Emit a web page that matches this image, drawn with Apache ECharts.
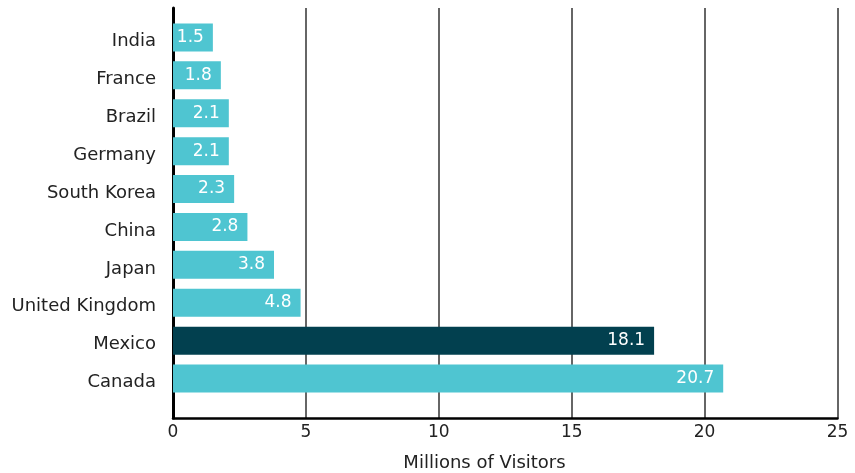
<!DOCTYPE html>
<html>
<head>
<meta charset="utf-8">
<script src="https://cdn.jsdelivr.net/npm/echarts@6/dist/echarts.min.js"></script>
<style>
  html, body { margin: 0; padding: 0; background: #fff; }
  #chart { width: 855px; height: 473px; }
</style>
</head>
<body>
<div id="chart"></div>
<script>
// Visitors by country of origin, millions
const countries = ['India', 'France', 'Brazil', 'Germany', 'South Korea', 'China', 'Japan', 'United Kingdom', 'Mexico', 'Canada'];
const visitors = [1.5, 1.8, 2.1, 2.1, 2.3, 2.8, 3.8, 4.8, 18.1, 20.7];
const highlighted = ['Mexico'];
const xTicks = [0, 5, 10, 15, 20, 25];
const xAxisTitle = 'Millions of Visitors';

const FONT = 'DejaVu Sans';
const TEAL = '#4fc5d1';
const DARK = '#02404f';

const chart = echarts.init(document.getElementById('chart'), null, { renderer: 'canvas' });

const barData = countries.map((c, i) => ({
  value: visitors[i],
  itemStyle: { color: highlighted.includes(c) ? DARK : TEAL }
}));

chart.setOption({
  animation: false,
  backgroundColor: '#fff',
  grid: [
    // frame: value axis, gridlines and the left axis line
    { left: 173, right: 17.5, top: 8, bottom: 55 },
    // bars and category labels
    { left: 173, right: 17.5, top: 18.5, bottom: 75.5 }
  ],
  xAxis: [
    {
      gridIndex: 0,
      type: 'value',
      min: xTicks[0],
      max: xTicks[xTicks.length - 1],
      interval: xTicks[1] - xTicks[0],
      axisLine: { show: true, onZero: false, lineStyle: { color: '#000', width: 2.5 } },
      axisTick: { show: false },
      axisLabel: { margin: 6, color: '#222', fontFamily: FONT, fontSize: 17 },
      splitLine: { show: true, lineStyle: { color: '#333', width: 1.5 } }
    },
    {
      gridIndex: 1,
      type: 'value',
      min: xTicks[0],
      max: xTicks[xTicks.length - 1],
      show: false
    }
  ],
  yAxis: [
    {
      gridIndex: 0,
      type: 'value',
      min: 0,
      max: 1,
      axisLine: { show: true, onZero: false, lineStyle: { color: '#000', width: 3 } },
      axisTick: { show: false },
      axisLabel: { show: false },
      splitLine: { show: false }
    },
    {
      gridIndex: 1,
      type: 'category',
      data: countries,
      inverse: true,
      axisLine: { show: false },
      axisTick: { show: false },
      axisLabel: {
        margin: 17,
        formatter: '{c|{value}}',
        rich: {
          c: {
            color: '#222',
            fontFamily: FONT,
            fontSize: 18,
            padding: [8, 0, 0, 0]
          }
        }
      },
      splitLine: { show: false }
    }
  ],
  graphic: [
    {
      type: 'text',
      x: 484.5,
      y: 463,
      style: {
        text: xAxisTitle,
        fill: '#222',
        font: '18px "' + FONT + '"',
        textAlign: 'center',
        textVerticalAlign: 'middle'
      }
    }
  ],
  series: [
    {
      type: 'bar',
      xAxisIndex: 1,
      yAxisIndex: 1,
      data: barData,
      barWidth: 28,
      label: {
        show: true,
        position: 'insideRight',
        distance: 9,
        color: '#fff',
        fontFamily: FONT,
        fontSize: 17
      }
    }
  ]
});
</script>
</body>
</html>
